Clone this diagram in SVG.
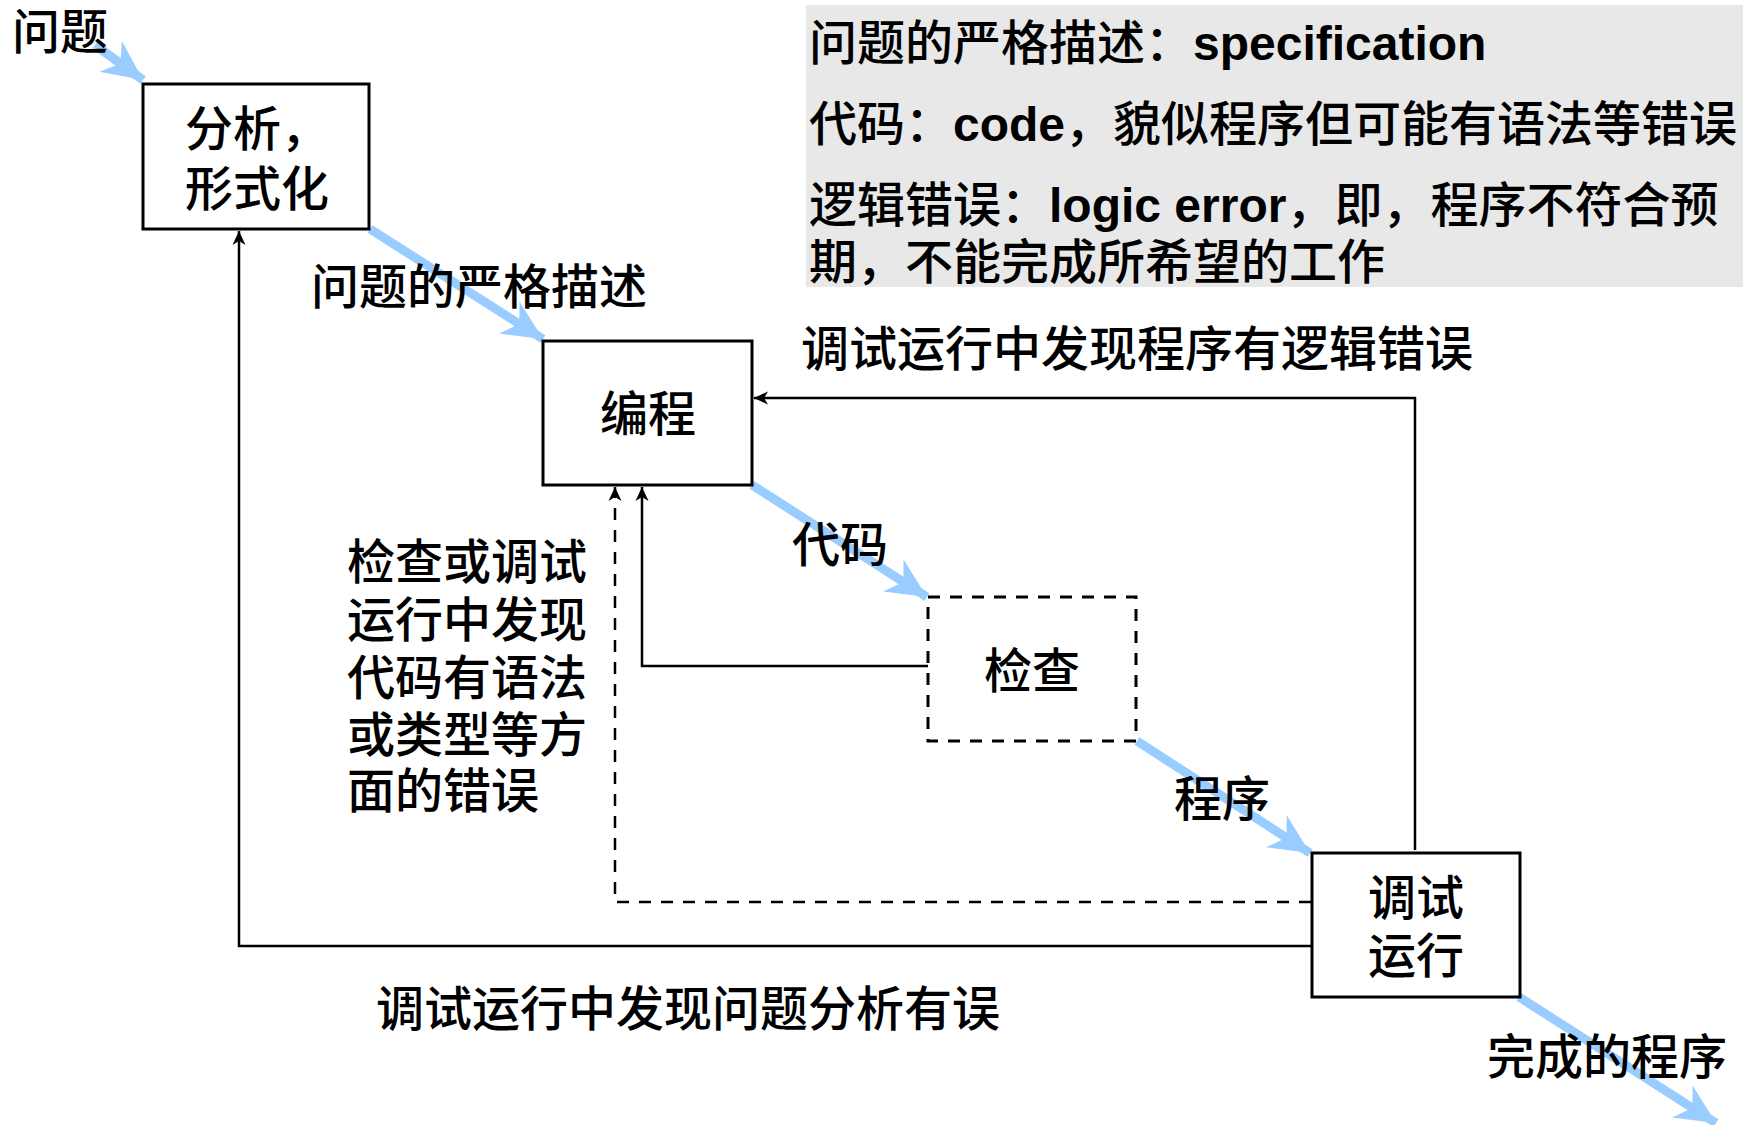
<svg xmlns="http://www.w3.org/2000/svg" width="1757" height="1125" viewBox="0 0 1757 1125">
  <style>
    text { font-family: "Noto Sans CJK SC", "Liberation Sans", sans-serif; font-size: 48px; font-weight: 500; fill: #000; }
    .lat { font-family: "Liberation Sans", Arial, sans-serif; font-weight: bold; }
    .mid { text-anchor: middle; }
    .box { fill: #fff; stroke: #000; stroke-width: 3; }
    .dbox { fill: #fff; stroke: #000; stroke-width: 3; stroke-dasharray: 12 10; }
    .flow { fill: none; stroke: #99ccff; stroke-width: 9; marker-end: url(#blueHead); }
    .link { fill: none; stroke: #000; stroke-width: 2.5; marker-end: url(#blackHead); }
    .dlink { fill: none; stroke: #000; stroke-width: 2.5; stroke-dasharray: 12 10; marker-end: url(#blackHead); }
  </style>
  <defs>
    <marker id="blueHead" markerUnits="userSpaceOnUse" markerWidth="48" markerHeight="44" refX="0" refY="0" viewBox="-42 -22 48 44" orient="auto">
      <path d="M0,0 L-40,-19 L-28,0 L-40,19 Z" fill="#99ccff"/>
    </marker>
    <marker id="blackHead" markerUnits="userSpaceOnUse" markerWidth="18" markerHeight="16" refX="0" refY="0" viewBox="-15 -8 18 16" orient="auto">
      <path d="M0,0 L-14,-6.5 L-10,0 L-14,6.5 Z" fill="#000"/>
    </marker>
  </defs>

  <!-- glossary panel -->
  <g id="glossary">
    <rect x="806" y="5" width="937" height="282" fill="#e8e8e8"/>
    <text x="809" y="60">问题的严格描述：<tspan class="lat">specification</tspan></text>
    <text x="809" y="141">代码：<tspan class="lat">code</tspan>，貌似程序但可能有语法等错误</text>
    <text x="809" y="222">逻辑错误：<tspan class="lat">logic error</tspan>，即，程序不符合预</text>
    <text x="809" y="279">期，不能完成所希望的工作</text>
  </g>

  <!-- connectors -->
  <g id="connectors">
    <path class="flow" d="M95,45 L143,80"/>
    <path class="flow" d="M370,229 L543,339"/>
    <path class="flow" d="M752,485 L927,597"/>
    <path class="flow" d="M1137,741 L1310,853"/>
    <path class="flow" d="M1519,997 L1716,1123"/>

    <path class="link" d="M1415,850 L1415,398 L754,398"/>
    <path class="link" d="M928,666 L642,666 L642,487"/>
    <path class="dlink" d="M1311,902 L615,902 L615,487"/>
    <path class="link" d="M1311,946 L239,946 L239,231"/>
  </g>

  <!-- nodes -->
  <g id="node-analysis">
    <rect class="box" x="143" y="84" width="226" height="145"/>
    <text x="185" y="146">分析，</text>
    <text x="185" y="206">形式化</text>
  </g>
  <g id="node-coding">
    <rect class="box" x="543" y="341" width="209" height="144"/>
    <text class="mid" x="648" y="431">编程</text>
  </g>
  <g id="node-check">
    <rect class="dbox" x="928" y="597" width="208" height="144"/>
    <text class="mid" x="1032" y="688">检查</text>
  </g>
  <g id="node-debug">
    <rect class="box" x="1312" y="853" width="208" height="144"/>
    <text class="mid" x="1416" y="915">调试</text>
    <text class="mid" x="1416" y="973">运行</text>
  </g>

  <!-- labels -->
  <g id="labels">
    <text x="12" y="49">问题</text>
    <text x="311" y="304">问题的严格描述</text>
    <text x="801" y="366">调试运行中发现程序有逻辑错误</text>
    <text x="792" y="562">代码</text>
    <text x="1174" y="816">程序</text>
    <text x="1487" y="1074">完成的程序</text>
    <text x="376" y="1026">调试运行中发现问题分析有误</text>
    <text x="347" y="579">检查或调试</text>
    <text x="347" y="637">运行中发现</text>
    <text x="347" y="695">代码有语法</text>
    <text x="347" y="752">或类型等方</text>
    <text x="347" y="808">面的错误</text>
  </g>
</svg>
